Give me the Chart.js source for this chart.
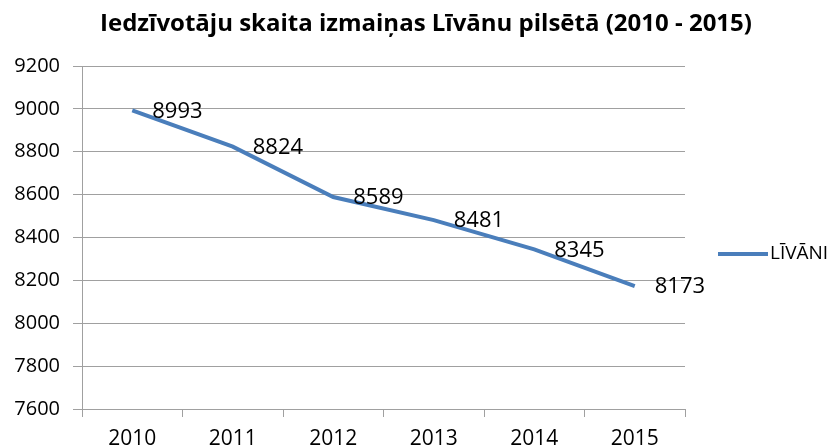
<!DOCTYPE html>
<html>
<head>
<meta charset="utf-8">
<script src="https://cdn.jsdelivr.net/npm/chart.js@4/dist/chart.umd.min.js"></script>
<style>
  html, body { margin: 0; padding: 0; background: #fff; }
  #wrap { width: 835px; height: 447px; }
</style>
</head>
<body>
<div id="wrap"><canvas id="c" width="835" height="447"></canvas></div>
<script>
const categories = ['2010', '2011', '2012', '2013', '2014', '2015'];
const values = [8993, 8824, 8589, 8481, 8345, 8173];
const seriesName = 'LĪVĀNI';
const yMin = 7600, yMax = 9200, yStep = 200;
const titleText = 'Iedzīvotāju skaita izmaiņas Līvānu pilsētā (2010 - 2015)';

const lineColor = '#4A7EBB';
const gridColor = '#a0a0a0';
const fontFam = "'Open Sans', 'DejaVu Sans', sans-serif";

const customTitle = {
  id: 'customTitle',
  afterDraw(chart) {
    const ctx = chart.ctx;
    ctx.save();
    ctx.font = "bold 24px " + fontFam;
    ctx.fillStyle = '#000';
    ctx.textAlign = 'center';
    ctx.textBaseline = 'middle';
    ctx.fillText(titleText, 426, 24);
    ctx.restore();
  }
};

const dataLabels = {
  id: 'dataLabels',
  afterDatasetsDraw(chart) {
    const ctx = chart.ctx;
    const meta = chart.getDatasetMeta(0);
    ctx.save();
    ctx.font = "22px " + fontFam;
    ctx.fillStyle = '#000';
    ctx.textAlign = 'left';
    ctx.textBaseline = 'middle';
    meta.data.forEach((pt, i) => {
      ctx.fillText(String(values[i]), pt.x + 20, pt.y + 1);
    });
    ctx.restore();
  }
};

const customLegend = {
  id: 'customLegend',
  afterDraw(chart) {
    const ctx = chart.ctx;
    const x0 = chart.chartArea.right + 33;
    const y0 = 254;
    ctx.save();
    ctx.strokeStyle = lineColor;
    ctx.lineWidth = 4;
    ctx.beginPath();
    ctx.moveTo(x0, y0);
    ctx.lineTo(x0 + 50, y0);
    ctx.stroke();
    ctx.font = "19px " + fontFam;
    ctx.fillStyle = '#000';
    ctx.textBaseline = 'middle';
    ctx.fillText(seriesName, x0 + 52, y0);
    ctx.restore();
  }
};

new Chart(document.getElementById('c'), {
  type: 'line',
  data: {
    labels: categories,
    datasets: [{
      label: seriesName,
      data: values,
      borderColor: lineColor,
      backgroundColor: lineColor,
      borderWidth: 4,
      pointRadius: 0,
      tension: 0,
      fill: false
    }]
  },
  options: {
    responsive: false,
    animation: false,
    layout: { padding: { left: 0, right: 150, top: 66, bottom: 0 } },
    plugins: {
      legend: { display: false },
      tooltip: { enabled: false },
      title: { display: false }
    },
    scales: {
      x: {
        offset: true,
        grid: { offset: true, drawOnChartArea: false, drawTicks: true, tickLength: 8, color: gridColor },
        border: { color: gridColor },
        ticks: { color: '#000', font: { family: fontFam, size: 21 }, padding: 9 },
        afterFit(scale) { scale.height = 38; }
      },
      y: {
        min: yMin, max: yMax,
        grid: { color: gridColor, tickLength: 9 },
        border: { color: gridColor },
        ticks: {
          stepSize: yStep, color: '#000',
          font: { family: fontFam, size: 20 }, padding: 13,
          callback: (v) => String(v)
        },
        afterFit(scale) { scale.width = 82; }
      }
    }
  },
  plugins: [dataLabels, customLegend, customTitle]
});
</script>
</body>
</html>
